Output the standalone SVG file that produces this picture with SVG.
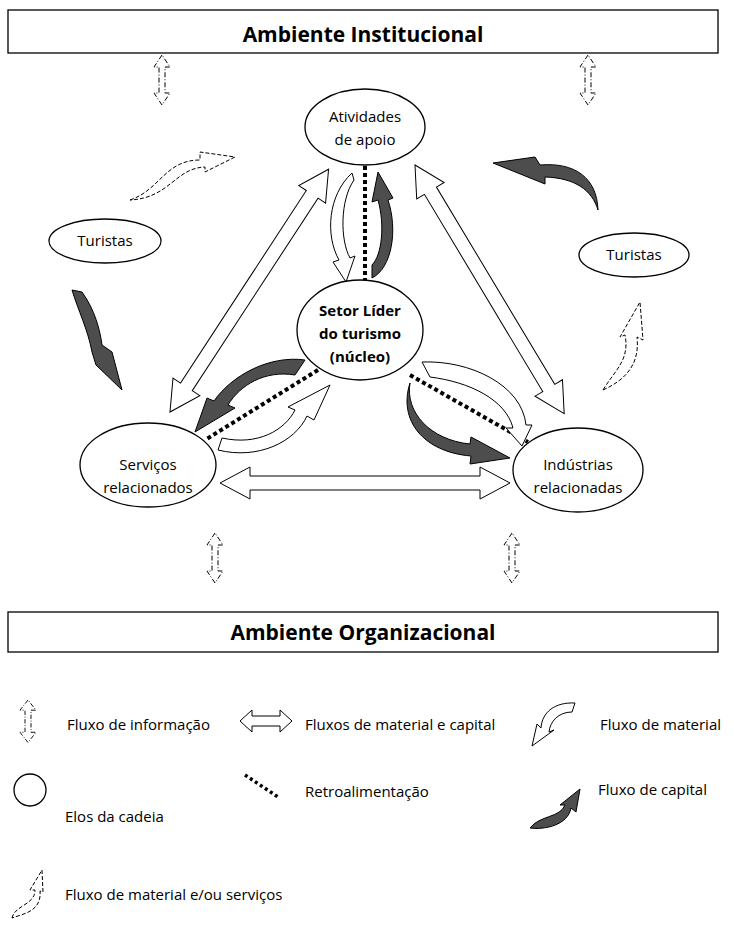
<svg xmlns="http://www.w3.org/2000/svg" width="734" height="935" viewBox="0 0 734 935">
<style>
text{font-family:"Open Sans","Liberation Sans",sans-serif;fill:#000}
.t{font-size:15px}
.b{font-size:21px;font-weight:bold}
.n{fill:#fff;stroke:#000;stroke-width:1.3}
.dbl{fill:#fff;stroke:#000;stroke-width:1}
.dot{stroke:#000;stroke-width:4;stroke-dasharray:4 3;fill:none}
.cap{fill:#4d4d4d;stroke:#000;stroke-width:1}
.mat{fill:#fff;stroke:#000;stroke-width:1}
.dsh{fill:#fff;stroke:#000;stroke-width:1;stroke-dasharray:4 2}
.inf{fill:#fff;stroke:#000;stroke-width:1;stroke-dasharray:5 2 1 2}
</style>
<defs>
<path id="da" d="M0,0 L30,-16 L30,-7 L260,-7 L260,-16 L290,0 L260,16 L260,7 L30,7 L30,16 Z"/>
<path id="ia" d="M0,0 L-8,12 L-3,12 L-3,38 L-8,38 L0,50 L8,38 L3,38 L3,12 L8,12 Z"/>
</defs>
<g id="boxes">
<rect x="8" y="10" width="710" height="43" class="n"/>
<text x="363" y="42" text-anchor="middle" class="b">Ambiente Institucional</text>
<rect x="8" y="612" width="710" height="40" class="n"/>
<text x="363" y="640" text-anchor="middle" class="b">Ambiente Organizacional</text>
</g>
<g id="connectors">
<use href="#da" class="dbl" transform="translate(220,483)"/>
<use href="#da" class="dbl" transform="translate(170,412) rotate(-56.85)"/>
<use href="#da" class="dbl" transform="translate(415,165) rotate(59.04)"/>
<line x1="365" y1="166" x2="365" y2="282" class="dot"/>
<line x1="318" y1="370" x2="205" y2="440" class="dot"/>
<line x1="410" y1="375" x2="528" y2="442" class="dot"/>
<use href="#ia" class="inf" transform="translate(162,55)"/>
<use href="#ia" class="inf" transform="translate(588,55)"/>
<use href="#ia" class="inf" transform="translate(215,533)"/>
<use href="#ia" class="inf" transform="translate(512,533)"/>
<path class="mat" d="M352,173 L354,180 C340,200 340,240 350,258 L355,256 L346,282 L333,262 L339,260 C325,235 328,195 352,173 Z"/>
<path class="cap" d="M372,278 C392,268 398,230 388,200 L393,198 L378,172 L372,202 L378,200 C385,225 382,255 372,265 Z"/>
<path class="cap" d="M305,360 L295,375 C265,370 240,385 228,405 L235,408 L195,432 L207,398 L214,401 C232,375 270,355 305,360 Z"/>
<path class="mat" d="M218,450 L222,438 C258,446 285,430 295,410 L288,407 L330,385 L314,420 L307,416 C295,442 258,460 218,450 Z"/>
<path class="mat" d="M422,362 C470,360 522,385 526,425 L532,425 L522,446 L506,428 L513,428 C506,400 470,382 430,377 Z"/>
<path class="cap" d="M410,383 C405,412 430,440 470,444 L471,437 L510,458 L470,464 L471,456 C423,452 398,420 410,383 Z"/>
<path class="cap" d="M72,290 L82,292 C95,310 100,330 102,345 L112,352 L122,390 L96,365 L92,352 C88,330 78,310 72,290 Z"/>
<path class="cap" d="M598,210 C592,190 575,178 545,177 L545,184 L493,163 L535,157 L540,165 C575,162 597,178 598,210 Z"/>
<path class="dsh" d="M130,200 C160,190 165,160 200,160 L200,152 L235,157 L205,172 L205,167 C175,168 170,198 130,200 Z"/>
<path class="dsh" d="M603,390 C615,370 630,360 625,335 L620,337 L640,302 L643,340 L637,337 C640,365 625,380 603,390 Z"/>
</g>
<g id="n-atividades"><ellipse cx="365" cy="127" rx="60" ry="38" class="n"/>
<text x="365" y="122" text-anchor="middle" class="t">Atividades</text><text x="365" y="145" text-anchor="middle" class="t">de apoio</text></g>
<g id="n-setor"><ellipse cx="360" cy="330" rx="63" ry="50" class="n"/>
<text x="360" y="316" text-anchor="middle" class="t" font-weight="bold" font-size="16">Setor Líder</text>
<text x="360" y="339" text-anchor="middle" class="t" font-weight="bold" font-size="16">do turismo</text>
<text x="360" y="362" text-anchor="middle" class="t" font-weight="bold" font-size="16">(núcleo)</text></g>
<g id="n-servicos"><ellipse cx="148" cy="465" rx="68" ry="42" class="n"/>
<text x="148" y="470" text-anchor="middle" class="t">Serviços</text><text x="148" y="493" text-anchor="middle" class="t">relacionados</text></g>
<g id="n-industrias"><ellipse cx="578" cy="470" rx="65" ry="42" class="n"/>
<text x="578" y="470" text-anchor="middle" class="t">Indústrias</text><text x="578" y="493" text-anchor="middle" class="t">relacionadas</text></g>
<g id="n-tur1"><ellipse cx="105" cy="241" rx="56" ry="22" class="n"/><text x="105" y="246" text-anchor="middle" class="t">Turistas</text></g>
<g id="n-tur2"><ellipse cx="634" cy="255" rx="55" ry="22" class="n"/><text x="634" y="260" text-anchor="middle" class="t">Turistas</text></g>
<g id="legend">
<use href="#ia" class="inf" transform="translate(28,700) scale(1,0.85)"/>
<text x="67" y="730" class="t">Fluxo de informação</text>
<path d="M240,721 L252,710 L252,716 L280,716 L280,710 L292,721 L280,732 L280,726 L252,726 L252,732 Z" class="dbl"/>
<text x="305" y="730" class="t">Fluxos de material e capital</text>
<path class="mat" d="M575,703 L572,712 C558,712 550,722 549,732 L554,730 L532,746 L537,724 L541,728 C542,712 555,702 575,703 Z"/>
<text x="600" y="730" class="t">Fluxo de material</text>
<circle cx="30" cy="790" r="16" class="n"/>
<text x="65" y="822" class="t">Elos da cadeia</text>
<line x1="245" y1="775" x2="278" y2="797" stroke="#000" stroke-width="3.5" stroke-dasharray="3 3"/>
<text x="305" y="797" class="t">Retroalimentação</text>
<path class="cap" d="M530,828 C540,815 560,818 565,805 L560,805 L580,789 L576,812 L571,808 C568,825 545,830 530,828 Z"/>
<text x="598" y="795" class="t">Fluxo de capital</text>
<path class="dsh" d="M12,918 C15,905 35,905 35,890 L30,890 L42,870 L43,892 L40,891 C42,912 22,914 12,918 Z"/>
<text x="65" y="900" class="t">Fluxo de material e/ou serviços</text>
</g>
</svg>
